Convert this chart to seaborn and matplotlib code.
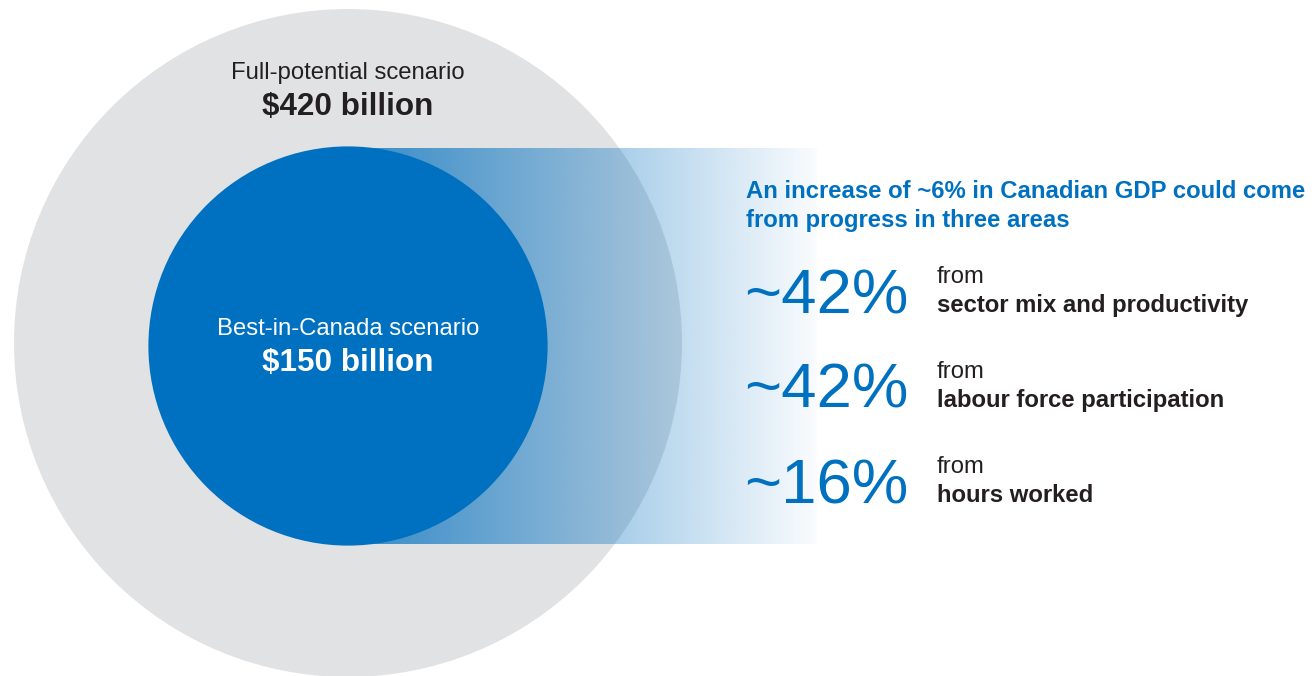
import numpy as np
import matplotlib
matplotlib.use("Agg")
import matplotlib.pyplot as plt
from matplotlib.patches import Circle
import seaborn as sns

# --- data -------------------------------------------------------------
scenario_names = ["Full-potential scenario", "Best-in-Canada scenario"]
scenario_values = [420, 150]          # $ billion
area_shares = [42, 42, 16]            # % of the increase
area_labels = ["sector mix and productivity",
               "labour force participation",
               "hours worked"]
headline_lines = ["An increase of ~6% in Canadian GDP could come",
                  "from progress in three areas"]

# --- style ------------------------------------------------------------
sns.set_theme(style="white")
plt.rcParams["font.family"] = ["Liberation Sans", "DejaVu Sans"]

BLUE = "#0070c0"
GREY = "#e1e2e4"
DARK = "#231f20"

W, H = 1315, 676
fig = plt.figure(figsize=(W / 100, H / 100), dpi=100)
ax = fig.add_axes([0, 0, 1, 1])

# circles: area proportional to value
k = 334 / np.sqrt(max(scenario_values))
radii = [k * np.sqrt(v) for v in scenario_values]
centres = [(348, 343), (348, 346)]

ax.add_patch(Circle(centres[0], radii[0], facecolor=GREY, edgecolor="none", zorder=1))

# fading band from the inner circle to the text block
x0, x1, y0, y1 = 368, 817, 148, 544
n = 400
grad = np.zeros((1, n, 4))
grad[0, :, :3] = matplotlib.colors.to_rgb(BLUE)
grad[0, :, 3] = np.linspace(0.74, 0.025, n)
ax.imshow(grad, extent=[x0, x1, y1, y0], aspect="auto",
          interpolation="bilinear", zorder=2)

ax.add_patch(Circle(centres[1], radii[1], facecolor=BLUE, edgecolor="none", zorder=3))

# circle labels
ax.text(348, 79, scenario_names[0], ha="center", va="baseline",
        fontsize=17.2, color=DARK, zorder=5)
ax.text(348, 115, f"${scenario_values[0]} billion", ha="center", va="baseline",
        fontsize=22.6, fontweight="bold", color=DARK, zorder=5)
ax.text(348, 335, scenario_names[1], ha="center", va="baseline",
        fontsize=17.2, color="white", zorder=5)
ax.text(348, 371, f"${scenario_values[1]} billion", ha="center", va="baseline",
        fontsize=22.6, fontweight="bold", color="white", zorder=5)

# headline
for i, line in enumerate(headline_lines):
    ax.text(746, 198 + 29 * i, line, ha="left", va="baseline",
            fontsize=17.2, fontweight="bold", color=BLUE, zorder=5)

# three areas
for i, (share, label) in enumerate(zip(area_shares, area_labels)):
    yb = 313 + 95 * i
    ax.text(744, yb, f"~{share}%", ha="left", va="baseline",
            fontsize=45.7, color=BLUE, zorder=5)
    ax.text(937, yb - 30, "from", ha="left", va="baseline",
            fontsize=17.2, color=DARK, zorder=5)
    ax.text(937, yb - 1, label, ha="left", va="baseline",
            fontsize=17.2, fontweight="bold", color=DARK, zorder=5)

ax.set_xlim(0, W)
ax.set_ylim(H, 0)
ax.set_aspect("equal")
ax.axis("off")

fig.savefig("out.png", dpi=100, facecolor="white")
